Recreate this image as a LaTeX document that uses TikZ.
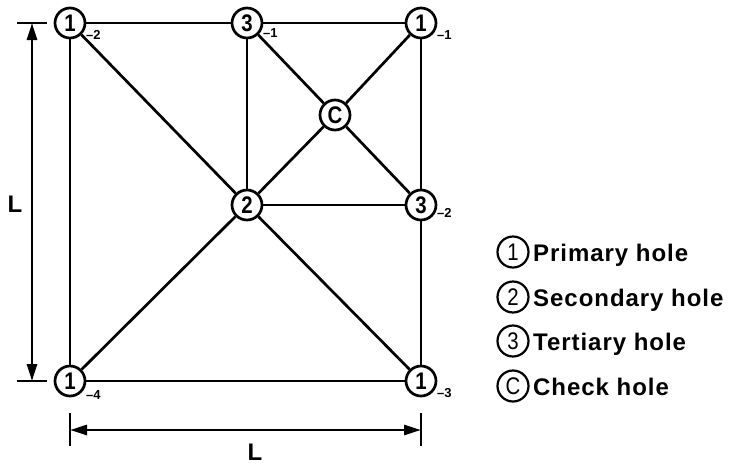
\documentclass[tikz,border=0pt]{standalone}
\usepackage{fontspec}
\setmainfont{Liberation Sans}
\usetikzlibrary{arrows.meta}
\begin{document}
\begin{tikzpicture}[x=1pt,y=-1pt,
  hole/.style={circle,draw,line width=2.7pt,minimum size=30pt,inner sep=0pt,fill=white,
    font=\fontsize{24}{24}\selectfont\bfseries},
  edge/.style={line width=2.7pt},
  sub/.style={anchor=west,inner sep=0pt,font=\fontsize{13}{13}\selectfont\bfseries},
  tick/.style={line width=2.7pt},
  dim/.style={line width=2.7pt,{Triangle[length=17pt,width=10pt]}-{Triangle[length=17pt,width=10pt]}},
  dimlabel/.style={inner sep=0pt,font=\fontsize{24}{24}\selectfont\bfseries},
  lhole/.style={circle,draw,line width=2.2pt,minimum size=31pt,inner sep=0pt,
    font=\fontsize{24}{24}\selectfont},
  ltext/.style={anchor=base west,inner sep=0pt,
    font=\fontsize{24}{24}\selectfont\bfseries\addfontfeature{LetterSpace=4}}
]
\useasboundingbox (0,0) rectangle (732,467);

% holes
\node[hole] (tl) at (70,23) {\scalebox{0.85}[1]{1}};
\node[hole] (tm) at (247,23) {\scalebox{0.85}[1]{3}};
\node[hole] (tr) at (421,23) {\scalebox{0.85}[1]{1}};
\node[hole] (c)  at (335,115) {\scalebox{0.85}[1]{C}};
\node[hole] (s)  at (247,205) {\scalebox{0.85}[1]{2}};
\node[hole] (r3) at (421,205) {\scalebox{0.85}[1]{3}};
\node[hole] (bl) at (70,381) {\scalebox{0.85}[1]{1}};
\node[hole] (br) at (421,381) {\scalebox{0.85}[1]{1}};

% subscripts
\node[sub] (tlsub) at (86,35) {–2};
\node[sub] (tmsub) at (263,33) {–1};
\node[sub] (trsub) at (437,35) {–1};
\node[sub] (r3sub) at (437,213) {–2};
\node[sub] (blsub) at (86,395) {–4};
\node[sub] (brsub) at (437,393) {–3};

% connectors
\draw[edge] (tl) -- (tm);
\draw[edge] (tm) -- (tr);
\draw[edge] (tl) -- (bl);
\draw[edge] (tr) -- (r3);
\draw[edge] (r3) -- (br);
\draw[edge] (bl) -- (br);
\draw[edge] (tm) -- (s);
\draw[edge] (tl) -- (s);
\draw[edge] (s) -- (br);
\draw[edge] (bl) -- (s);
\draw[edge] (s) -- (c);
\draw[edge] (c) -- (tr);
\draw[edge] (tm) -- (c);
\draw[edge] (c) -- (r3);
\draw[edge] (s) -- (r3);

% vertical dimension
\coordinate (vt) at (32,23);
\coordinate (vb) at (32,381);
\coordinate (vt1) at (17,23);
\coordinate (vt2) at (47,23);
\coordinate (vb1) at (17,381);
\coordinate (vb2) at (47,381);
\draw[tick] (vt1) -- (vt2);
\draw[tick] (vb1) -- (vb2);
\draw[dim] (vt) -- (vb);
\node[dimlabel] (lv) at (15,204) {L};

% horizontal dimension
\coordinate (hl) at (70,430);
\coordinate (hr) at (421,430);
\coordinate (hl1) at (70,413);
\coordinate (hl2) at (70,446);
\coordinate (hr1) at (421,413);
\coordinate (hr2) at (421,446);
\draw[tick] (hl1) -- (hl2);
\draw[tick] (hr1) -- (hr2);
\draw[dim] (hl) -- (hr);
\node[dimlabel] (lh) at (255,452) {L};

% legend
\node[lhole] (l1) at (513,252) {\scalebox{0.85}[1]{1}};
\node[ltext] (t1) at (533,261) {Primary hole};
\node[lhole] (l2) at (513,297) {\scalebox{0.85}[1]{2}};
\node[ltext] (t2) at (533,306) {Secondary hole};
\node[lhole] (l3) at (513,341) {\scalebox{0.85}[1]{3}};
\node[ltext] (t3) at (533,350) {Tertiary hole};
\node[lhole] (l4) at (513,386) {\scalebox{0.85}[1]{C}};
\node[ltext] (t4) at (533,395) {Check hole};
\end{tikzpicture}
\end{document}
